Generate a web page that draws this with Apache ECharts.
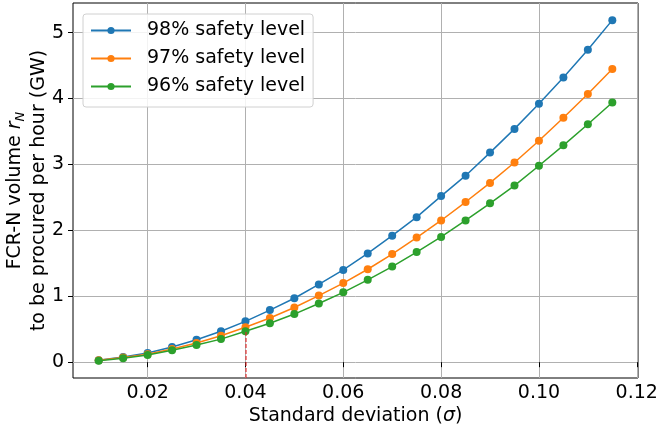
<!DOCTYPE html>
<html>
<head>
<meta charset="utf-8">
<script src="https://cdn.jsdelivr.net/npm/echarts@6/dist/echarts.min.js"></script>
<style>html,body{margin:0;padding:0;background:#fff;}#c{width:664px;height:430px;}</style>
</head>
<body>
<div id="c"></div>
<script>
const sigma = [0.010,0.015,0.020,0.025,0.030,0.035,0.040,0.045,0.050,0.055,0.060,0.065,0.070,0.075,0.080,0.085,0.090,0.095,0.100,0.105,0.110,0.115];
const level98 = [0.03,0.08,0.14,0.23,0.34,0.47,0.62,0.79,0.97,1.18,1.40,1.65,1.92,2.20,2.52,2.83,3.18,3.54,3.92,4.32,4.74,5.19];
const level97 = [0.03,0.07,0.12,0.20,0.29,0.40,0.53,0.67,0.83,1.01,1.20,1.41,1.64,1.89,2.15,2.43,2.72,3.03,3.36,3.71,4.07,4.45];
const level96 = [0.02,0.06,0.11,0.18,0.26,0.35,0.47,0.59,0.73,0.89,1.06,1.25,1.45,1.67,1.90,2.15,2.41,2.68,2.98,3.29,3.61,3.94];
const seriesNames = ['98% safety level','97% safety level','96% safety level'];
const xTicks = [0.02,0.04,0.06,0.08,0.10,0.12];
const yTicks = [0,1,2,3,4,5];
const markSigma = 0.04;
const markTop = 0.47;

const colors = ['#1f77b4','#ff7f0e','#2ca02c'];
const FONT = 'DejaVu Sans';
const FS = 19;
const xMin = 0.00475, xMax = 0.12025, yMin = -0.24, yMax = 5.45;

function pairs(ys){ return sigma.map((s,i)=>[s, ys[i]]); }

const chart = echarts.init(document.getElementById('c'), null, {renderer:'canvas'});
const allData = [level98, level97, level96];
const series = allData.map((d,i)=>({
  name: seriesNames[i],
  type: 'line',
  data: pairs(d),
  symbol: 'circle',
  symbolSize: 8,
  showSymbol: true,
  lineStyle: {width: 1.5, color: colors[i]},
  itemStyle: {color: colors[i]},
  z: 2 + i,
  animation: false
}));
series.push({
  type: 'line',
  data: [],
  silent: true,
  z: 10,
  markLine: {
    silent: true,
    symbol: ['none','none'],
    label: {show: false},
    lineStyle: {color: 'rgba(225,40,40,0.75)', type: [4,2], width: 1.5},
    data: [[{coord: [markSigma, yMin]}, {coord: [markSigma, markTop]}]],
    animation: false
  }
});

chart.setOption({
  animation: false,
  textStyle: {fontFamily: FONT},
  color: colors,
  grid: {left: 73, right: 26, top: 3, bottom: 52, show: true, borderColor: '#000', borderWidth: 1, backgroundColor: 'transparent', containLabel: false, outerBoundsMode: 'none'},
  legend: {
    left: 83, top: 14,
    orient: 'vertical',
    data: seriesNames,
    itemWidth: 40, itemHeight: 9, itemGap: 9,
    padding: [7, 8, 11, 7],
    borderColor: '#d0d0d0', borderWidth: 1, borderRadius: 3,
    backgroundColor: 'rgba(255,255,255,0.85)',
    textStyle: {fontFamily: FONT, fontSize: FS, color: '#000', padding: [0,0,0,11]}
  },
  xAxis: {
    type: 'value', min: xMin, max: xMax,
    name: 'Standard deviation ({i|σ})',
    nameLocation: 'middle', nameGap: 29, nameMoveOverlap: false,
    nameTextStyle: {fontFamily: FONT, fontSize: FS, color: '#000', rich: {i: {fontFamily: FONT, fontSize: FS, fontStyle: 'italic', color: '#000'}}},
    axisLine: {show: false},
    axisTick: {show: true, inside: false, length: 5, lineStyle: {color: '#000', width: 1}, customValues: xTicks},
    axisLabel: {fontFamily: FONT, fontSize: FS, color: '#000', margin: 6, customValues: xTicks, formatter: v => v.toFixed(2)},
    splitLine: {show: true, lineStyle: {color: '#b0b0b0', width: 1}}
  },
  yAxis: {
    type: 'value', min: yMin, max: yMax,
    name: '{t|FCR-N volume }{i|r}{s|N}\n{t|to be procured per hour (GW)}',
    nameLocation: 'middle', nameRotate: 90, nameGap: 22, nameMoveOverlap: false,
    nameTextStyle: {fontFamily: FONT, fontSize: FS, color: '#000', rich: {
      t: {fontFamily: FONT, fontSize: FS, lineHeight: 24, color: '#000'},
      i: {fontFamily: FONT, fontSize: FS, lineHeight: 24, fontStyle: 'italic', color: '#000'},
      s: {fontFamily: FONT, fontSize: 13, lineHeight: 15, fontStyle: 'italic', verticalAlign: 'bottom', color: '#000'}
    }},
    axisLine: {show: false},
    axisTick: {show: true, inside: false, length: 5, lineStyle: {color: '#000', width: 1}, customValues: yTicks},
    axisLabel: {fontFamily: FONT, fontSize: FS, color: '#000', margin: 9, customValues: yTicks},
    splitLine: {show: true, lineStyle: {color: '#b0b0b0', width: 1}}
  },
  series: series
});
</script>
</body>
</html>
